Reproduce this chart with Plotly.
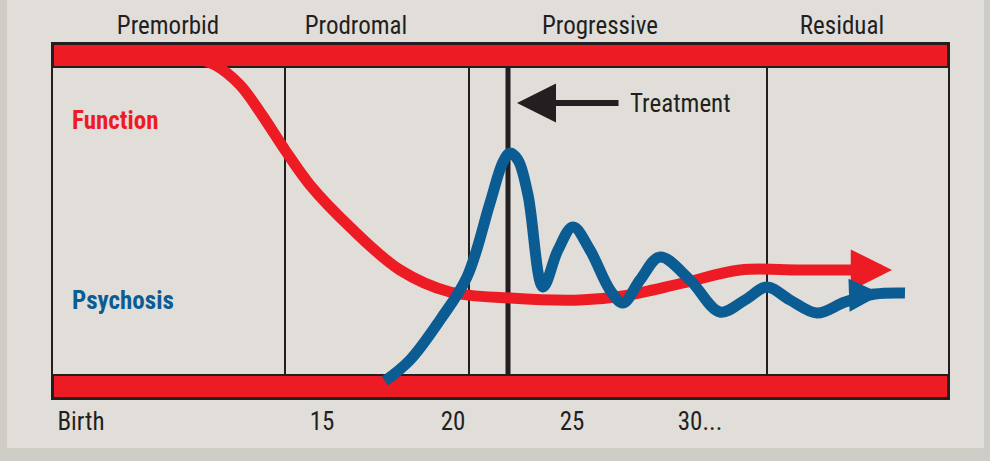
import plotly.graph_objects as go

# ---- schematic data (x: timeline units, y: level units) ----
function_x = [97, 137, 162, 187, 209, 232, 257, 297, 347, 397, 457, 527, 570, 630, 687, 747, 812]
function_y = [341, 341, 333, 313, 283, 248, 213, 171, 128, 106, 100, 98, 102, 115, 128, 128, 128]

psychosis_x = [332, 357, 387, 414, 437, 450, 457, 465, 475, 490, 505, 520, 537, 557, 570, 587, 607, 637, 667, 692, 714, 737, 764, 792, 822, 852]
psychosis_y = [17, 38, 78, 121, 195, 236, 245, 238, 203, 111, 148, 171, 148, 108, 95, 118, 141, 118, 86, 98, 111, 98, 85, 96, 104, 105]

stage_names = ["Premorbid", "Prodromal", "Progressive", "Residual"]
stage_label_pos = [115, 303, 547, 789]
stage_bounds = [232, 416, 714]
treatment_x = 455

age_labels = ["Birth", "15", "20", "25", "30..."]
age_pos = [28, 269, 400, 519, 647]

W, H = 990, 461
L, R, T, B = 53, 42, 44, 63
PW, PH = W - L - R, H - T - B

RED = "#ed1c24"
BLUE = "#0b5c93"
INK = "#231f20"
BG = "#e1deda"
FONT = "Liberation Sans Narrow, Arial Narrow, Roboto Condensed, Liberation Sans, sans-serif"


def px_x(p):
    return (p - L) / PW


def px_y(p):
    return (H - B - p) / PH


fig = go.Figure()

fig.add_trace(go.Scatter(x=function_x, y=function_y, mode="lines",
                         line=dict(color=RED, width=11, shape="spline", smoothing=1),
                         hoverinfo="skip", showlegend=False))
fig.add_trace(go.Scatter(x=psychosis_x, y=psychosis_y, mode="lines",
                         line=dict(color=BLUE, width=11, shape="spline", smoothing=1),
                         hoverinfo="skip", showlegend=False))
# dummy trace for top axis
fig.add_trace(go.Scatter(x=[0, PW], y=[0, 0], xaxis="x2", mode="lines",
                         line=dict(width=0), hoverinfo="skip", showlegend=False))

shapes = []
# outer frame strips
shapes.append(dict(type="rect", xref="paper", yref="paper", x0=px_x(0), x1=px_x(7),
                   y0=px_y(461), y1=px_y(0), fillcolor="#cfcbc5", line_width=0, layer="below"))
shapes.append(dict(type="rect", xref="paper", yref="paper", x0=px_x(0), x1=px_x(990),
                   y0=px_y(461), y1=px_y(448), fillcolor="#cfcbc5", line_width=0, layer="below"))
shapes.append(dict(type="rect", xref="paper", yref="paper", x0=px_x(984), x1=px_x(990),
                   y0=px_y(461), y1=px_y(0), fillcolor="#cfcbc5", line_width=0, layer="below"))
# red bands
shapes.append(dict(type="rect", xref="paper", yref="paper", x0=0, x1=1,
                   y0=px_y(67), y1=1, fillcolor=RED, line=dict(color=INK, width=2), layer="below"))
shapes.append(dict(type="rect", xref="paper", yref="paper", x0=0, x1=1,
                   y0=0, y1=px_y(375), fillcolor=RED, line=dict(color=INK, width=2), layer="below"))
# stage boundaries
for b in stage_bounds:
    shapes.append(dict(type="line", xref="x", yref="paper", x0=b, x1=b,
                       y0=px_y(375), y1=px_y(67), line=dict(color=INK, width=2), layer="below"))
shapes.append(dict(type="line", xref="x", yref="paper", x0=treatment_x, x1=treatment_x,
                   y0=px_y(375), y1=px_y(67), line=dict(color=INK, width=5), layer="below"))

annotations = []
annotations.append(dict(x=17, y=278, xref="x", yref="y", text="<b>Function</b>", showarrow=False,
                        xanchor="left", yanchor="middle", font=dict(family=FONT, size=25, color=RED)))
annotations.append(dict(x=17, y=98, xref="x", yref="y", text="<b>Psychosis</b>", showarrow=False,
                        xanchor="left", yanchor="middle", font=dict(family=FONT, size=25, color=BLUE)))
annotations.append(dict(x=575, y=295, xref="x", yref="y", text="Treatment", showarrow=False,
                        xanchor="left", yanchor="middle", font=dict(family=FONT, size=25, color=INK)))
# treatment arrow
annotations.append(dict(x=treatment_x + 9, y=295, ax=567, ay=295, xref="x", yref="y",
                        axref="x", ayref="y", text="", showarrow=True, arrowhead=2,
                        arrowsize=1.3, arrowwidth=6, arrowcolor=INK))
# function arrow
annotations.append(dict(x=839, y=128, ax=805, ay=128, xref="x", yref="y",
                        axref="x", ayref="y", text="", showarrow=True, arrowhead=2,
                        arrowsize=0.75, arrowwidth=11, arrowcolor=RED))
# psychosis arrow
annotations.append(dict(x=829, y=104, ax=800, ay=103, xref="x", yref="y",
                        axref="x", ayref="y", text="", showarrow=True, arrowhead=2,
                        arrowsize=0.6, arrowwidth=11, arrowcolor=BLUE))

fig.update_layout(
    width=W, height=H,
    margin=dict(l=L, r=R, t=T, b=B),
    paper_bgcolor=BG, plot_bgcolor=BG,
    shapes=shapes, annotations=annotations,
    xaxis=dict(range=[0, PW], showgrid=False, zeroline=False, showline=True, mirror=True,
               linecolor=INK, linewidth=2, tickvals=age_pos, ticktext=age_labels,
               ticks="", ticklabelstandoff=0, tickfont=dict(family=FONT, size=25, color=INK),
               fixedrange=True),
    xaxis2=dict(range=[0, PW], overlaying="x", side="top", showgrid=False, zeroline=False,
                showline=False, tickvals=stage_label_pos, ticktext=stage_names, ticks="",
                ticklabelstandoff=4, tickfont=dict(family=FONT, size=25, color=INK)),
    yaxis=dict(range=[0, PH], showgrid=False, zeroline=False, showline=True, mirror=True,
               linecolor=INK, linewidth=2, showticklabels=False, ticks="", fixedrange=True),
)

fig.write_html("out.html")
